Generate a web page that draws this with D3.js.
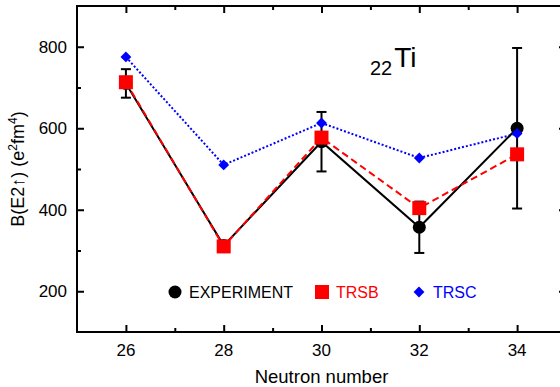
<!DOCTYPE html>
<html>
<head>
<meta charset="utf-8">
<script src="https://cdn.jsdelivr.net/npm/d3@7"></script>
<style>
  body { margin: 0; background: #fff; }
  svg { display: block; font-family: "Liberation Sans", Arial, sans-serif; }
</style>
</head>
<body>
<svg id="chart" width="560" height="387"></svg>
<script>
var neutrons = [26, 28, 30, 32, 34];
var expValues = [710, 312, 567, 357, 600];
var expErrors = [35, 6, 73, 63, 197];
var trsbValues = [713, 310, 577, 404, 536];
var trscValues = [775, 510, 613, 527, 587];
var xMajorTicks = [26, 28, 30, 32, 34];
var xMinorTicks = [27, 29, 31, 33];
var yMajorTicks = [200, 400, 600, 800];
var yMinorTicks = [300, 500, 700];

var svg = d3.select("#chart");

var margin = {left: 77, right: -6, top: 6, bottom: 55},
    width = 560 - margin.left - margin.right,
    height = 387 - margin.top - margin.bottom;

var x = d3.scaleLinear().domain([25, 35]).range([0, width]);
var y = d3.scaleLinear().domain([100, 900]).range([height, 0]);

var g = svg.append("g")
    .attr("transform", "translate(" + margin.left + "," + margin.top + ")");

// frame
g.append("rect")
    .attr("width", width)
    .attr("height", height)
    .attr("fill", "none")
    .attr("stroke", "#000")
    .attr("stroke-width", 2);

// ticks pointing inwards on all four sides
function drawTicks(axisGen, transform, values, size) {
  var a = g.append("g").attr("transform", transform)
      .call(axisGen.tickValues(values).tickSize(size).tickFormat(""));
  a.select(".domain").remove();
  a.selectAll("line").attr("stroke-width", 2);
  return a;
}
drawTicks(d3.axisBottom(x), "translate(0," + height + ")", xMajorTicks, -7);
drawTicks(d3.axisBottom(x), "translate(0," + height + ")", xMinorTicks, -4);
drawTicks(d3.axisTop(x), "translate(0,0)", xMajorTicks, -7);
drawTicks(d3.axisTop(x), "translate(0,0)", xMinorTicks, -4);
drawTicks(d3.axisLeft(y), "translate(0,0)", yMajorTicks, -7);
drawTicks(d3.axisLeft(y), "translate(0,0)", yMinorTicks, -4);
drawTicks(d3.axisRight(y), "translate(" + width + ",0)", yMajorTicks, -7);
drawTicks(d3.axisRight(y), "translate(" + width + ",0)", yMinorTicks, -4);

// tick labels
g.selectAll(".xlab").data(xMajorTicks).enter().append("text")
    .attr("x", function(d) { return x(d); })
    .attr("y", height + 24)
    .attr("text-anchor", "middle")
    .attr("font-size", 17)
    .text(function(d) { return d; });

g.selectAll(".ylab").data(yMajorTicks).enter().append("text")
    .attr("x", -10)
    .attr("y", function(d) { return y(d); })
    .attr("dy", "0.35em")
    .attr("text-anchor", "end")
    .attr("font-size", 17)
    .text(function(d) { return d; });

// axis titles
svg.append("text")
    .attr("x", margin.left + x(30))
    .attr("y", 383)
    .attr("text-anchor", "middle")
    .attr("font-size", 18.5)
    .text("Neutron number");

var yt = svg.append("text")
    .attr("transform", "translate(24," + (margin.top + height / 2) + ") rotate(-90)")
    .attr("text-anchor", "middle")
    .attr("font-size", 18);
yt.append("tspan").text("B(E2\u2191) (e");
yt.append("tspan").attr("baseline-shift", "super").attr("font-size", 12).text("2");
yt.append("tspan").text("fm");
yt.append("tspan").attr("baseline-shift", "super").attr("font-size", 12).text("4");
yt.append("tspan").text(")");

// nucleus label
var ti = svg.append("text").attr("x", 370).attr("y", 75);
ti.append("tspan").attr("font-size", 20).text("22");
ti.append("tspan").attr("font-size", 28).attr("dx", 2).attr("dy", -8).text("Ti");

var line = d3.line()
    .x(function(d, i) { return x(neutrons[i]); })
    .y(function(d) { return y(d); });

// lines
g.append("path").datum(trscValues)
    .attr("d", line).attr("fill", "none")
    .attr("stroke", "#0000ff").attr("stroke-width", 2)
    .attr("stroke-dasharray", "2,2");

g.append("path").datum(expValues)
    .attr("d", line).attr("fill", "none")
    .attr("stroke", "#000").attr("stroke-width", 2);

g.append("path").datum(trsbValues)
    .attr("d", line).attr("fill", "none")
    .attr("stroke", "#ff0000").attr("stroke-width", 2)
    .attr("stroke-dasharray", "7,4");

// error bars
var eb = g.selectAll(".err").data(expValues).enter().append("g");
eb.append("line")
    .attr("x1", function(d, i) { return x(neutrons[i]); })
    .attr("x2", function(d, i) { return x(neutrons[i]); })
    .attr("y1", function(d, i) { return y(d - expErrors[i]); })
    .attr("y2", function(d, i) { return y(d + expErrors[i]); })
    .attr("stroke", "#000").attr("stroke-width", 2);
[-1, 1].forEach(function(s) {
  eb.append("line")
      .attr("x1", function(d, i) { return x(neutrons[i]) - 5; })
      .attr("x2", function(d, i) { return x(neutrons[i]) + 5; })
      .attr("y1", function(d, i) { return y(d + s * expErrors[i]); })
      .attr("y2", function(d, i) { return y(d + s * expErrors[i]); })
      .attr("stroke", "#000").attr("stroke-width", 2);
});

// markers
g.selectAll(".expm").data(expValues).enter().append("circle")
    .attr("cx", function(d, i) { return x(neutrons[i]); })
    .attr("cy", function(d) { return y(d); })
    .attr("r", 6.5)
    .attr("fill", "#000");

g.selectAll(".trsbm").data(trsbValues).enter().append("rect")
    .attr("x", function(d, i) { return x(neutrons[i]) - 7; })
    .attr("y", function(d) { return y(d) - 7; })
    .attr("width", 14).attr("height", 14)
    .attr("fill", "#ff0000");

var diamond = d3.symbol().type(d3.symbolDiamond2).size(75);
g.selectAll(".trscm").data(trscValues).enter().append("path")
    .attr("d", diamond)
    .attr("transform", function(d, i) { return "translate(" + x(neutrons[i]) + "," + y(d) + ")"; })
    .attr("fill", "#0000ff");

// legend
var legendY = 292;
svg.append("circle").attr("cx", 175).attr("cy", legendY).attr("r", 6.5).attr("fill", "#000");
svg.append("text").attr("x", 189).attr("y", legendY).attr("dy", "0.35em")
    .attr("font-size", 16).attr("fill", "#000").text("EXPERIMENT");
svg.append("rect").attr("x", 315).attr("y", legendY - 7).attr("width", 14).attr("height", 14)
    .attr("fill", "#ff0000");
svg.append("text").attr("x", 336).attr("y", legendY).attr("dy", "0.35em")
    .attr("font-size", 16).attr("fill", "#ff0000").text("TRSB");
svg.append("path").attr("d", diamond)
    .attr("transform", "translate(419," + legendY + ")").attr("fill", "#0000ff");
svg.append("text").attr("x", 433).attr("y", legendY).attr("dy", "0.35em")
    .attr("font-size", 16).attr("fill", "#0000ff").text("TRSC");
</script>
</body>
</html>
